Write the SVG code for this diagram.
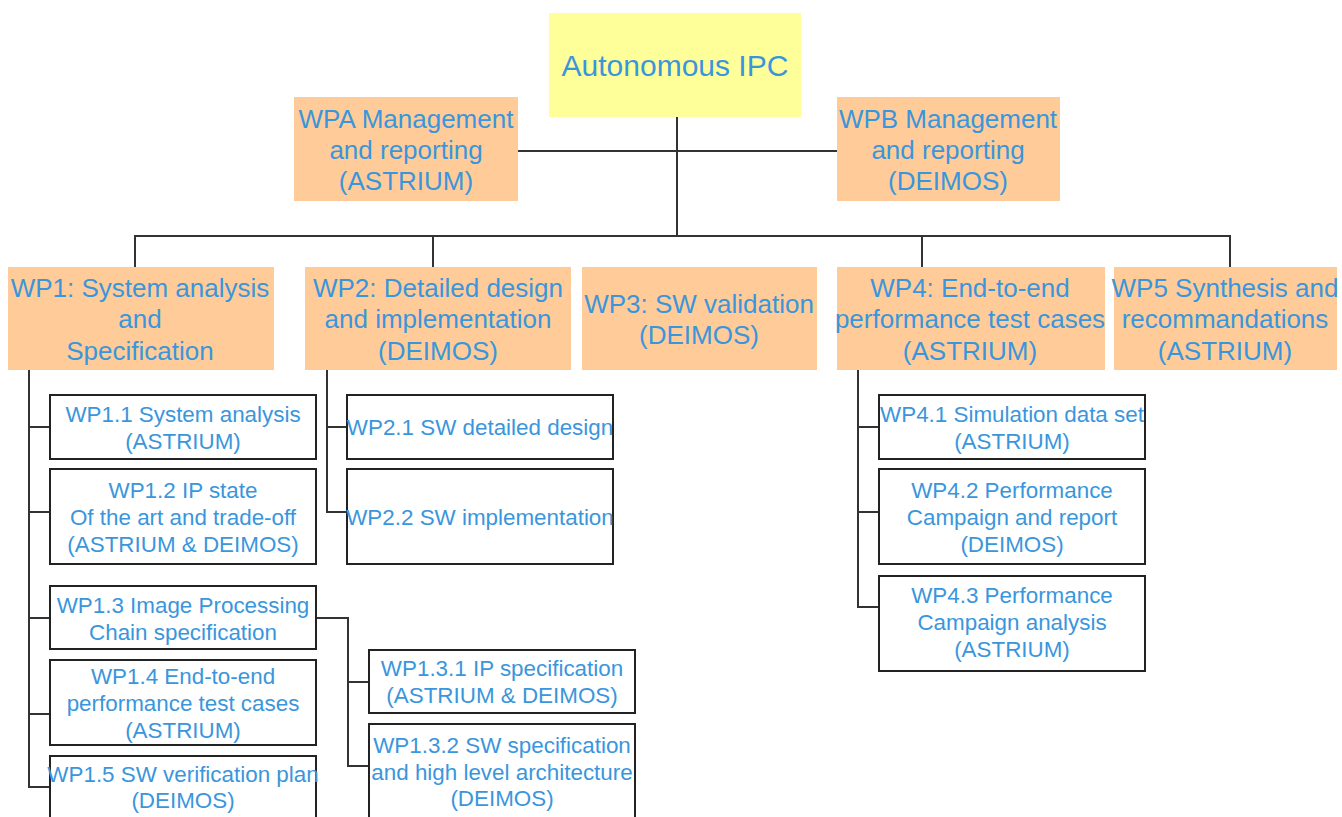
<svg xmlns="http://www.w3.org/2000/svg" width="1342" height="817" viewBox="0 0 1342 817">
<style>
text{font-family:"Liberation Sans",Arial,Helvetica,sans-serif;fill:#3a96dc;text-anchor:middle}
.root{fill:#ffff99}
.top{fill:#ffcc99}
.sub{fill:#ffffff;stroke:#222;stroke-width:2}
.t30{font-size:30px}
.t26{font-size:26px}
.t22{font-size:22.4px}
#connectors path{fill:none;stroke:#333;stroke-width:2}
</style>
<rect width="1342" height="817" fill="#ffffff"/>
<g id="connectors">
<path d="M677 117V236"/>
<path d="M518 151H837"/>
<path d="M135 267V236H1230V267"/>
<path d="M433 236V267"/>
<path d="M922 236V267"/>
<path d="M29 370V787H50"/>
<path d="M29 427H50M29 512H50M29 618H50M29 714H50"/>
<path d="M327 370V512H347M327 427H347"/>
<path d="M316 618H348V766H369M348 682H369"/>
<path d="M858 370V607H879M858 427H879M858 512H879"/>
</g>
<g id="root"><rect class="root" x="549" y="13" width="252" height="104"/><text class="t30" x="675" y="76">Autonomous IPC</text></g>
<g id="wpa"><rect class="top" x="294" y="97" width="224" height="104"/><text class="t26" x="406" y="128">WPA Management</text><text class="t26" x="406" y="159">and reporting</text><text class="t26" x="406" y="190">(ASTRIUM)</text></g>
<g id="wpb"><rect class="top" x="837" y="97" width="223" height="104"/><text class="t26" x="948" y="128">WPB Management</text><text class="t26" x="948" y="159">and reporting</text><text class="t26" x="948" y="190">(DEIMOS)</text></g>
<g id="wp1"><rect class="top" x="8" y="267" width="266" height="103"/><text class="t26" x="140" y="297">WP1: System analysis</text><text class="t26" x="140" y="328">and</text><text class="t26" x="140" y="360">Specification</text></g>
<g id="wp2"><rect class="top" x="305" y="267" width="266" height="103"/><text class="t26" x="438" y="297">WP2: Detailed design</text><text class="t26" x="438" y="328">and implementation</text><text class="t26" x="438" y="360">(DEIMOS)</text></g>
<g id="wp3"><rect class="top" x="582" y="267" width="235" height="103"/><text class="t26" x="699" y="313">WP3: SW validation</text><text class="t26" x="699" y="344">(DEIMOS)</text></g>
<g id="wp4"><rect class="top" x="837" y="267" width="268" height="103"/><text class="t26" x="970" y="297">WP4: End-to-end</text><text class="t26" x="970" y="328">performance test cases</text><text class="t26" x="970" y="360">(ASTRIUM)</text></g>
<g id="wp5"><rect class="top" x="1114" y="267" width="223" height="103"/><text class="t26" x="1225" y="297">WP5 Synthesis and</text><text class="t26" x="1225" y="328">recommandations</text><text class="t26" x="1225" y="360">(ASTRIUM)</text></g>
<g id="wp1-1"><rect class="sub" x="50" y="395" width="266" height="64"/><text class="t22" x="183" y="422">WP1.1 System analysis</text><text class="t22" x="183" y="449">(ASTRIUM)</text></g>
<g id="wp1-2"><rect class="sub" x="50" y="469" width="266" height="95"/><text class="t22" x="183" y="498">WP1.2 IP state</text><text class="t22" x="183" y="525">Of the art and trade-off</text><text class="t22" x="183" y="552">(ASTRIUM &amp; DEIMOS)</text></g>
<g id="wp1-3"><rect class="sub" x="50" y="586" width="266" height="63"/><text class="t22" x="183" y="613">WP1.3 Image Processing</text><text class="t22" x="183" y="640">Chain specification</text></g>
<g id="wp1-4"><rect class="sub" x="50" y="660" width="266" height="85"/><text class="t22" x="183" y="684">WP1.4 End-to-end</text><text class="t22" x="183" y="711">performance test cases</text><text class="t22" x="183" y="738">(ASTRIUM)</text></g>
<g id="wp1-5"><rect class="sub" x="50" y="756" width="266" height="80"/><text class="t22" x="183" y="782">WP1.5 SW verification plan</text><text class="t22" x="183" y="808">(DEIMOS)</text></g>
<g id="wp2-1"><rect class="sub" x="347" y="395" width="266" height="64"/><text class="t22" x="480" y="435">WP2.1 SW detailed design</text></g>
<g id="wp2-2"><rect class="sub" x="347" y="469" width="266" height="95"/><text class="t22" x="480" y="525">WP2.2 SW implementation</text></g>
<g id="wp1-3-1"><rect class="sub" x="369" y="650" width="266" height="63"/><text class="t22" x="502" y="676">WP1.3.1 IP specification</text><text class="t22" x="502" y="703">(ASTRIUM &amp; DEIMOS)</text></g>
<g id="wp1-3-2"><rect class="sub" x="369" y="724" width="266" height="110"/><text class="t22" x="502" y="753">WP1.3.2 SW specification</text><text class="t22" x="502" y="780">and high level architecture</text><text class="t22" x="502" y="806">(DEIMOS)</text></g>
<g id="wp4-1"><rect class="sub" x="879" y="395" width="266" height="64"/><text class="t22" x="1012" y="422">WP4.1 Simulation data set</text><text class="t22" x="1012" y="449">(ASTRIUM)</text></g>
<g id="wp4-2"><rect class="sub" x="879" y="469" width="266" height="95"/><text class="t22" x="1012" y="498">WP4.2 Performance</text><text class="t22" x="1012" y="525">Campaign and report</text><text class="t22" x="1012" y="552">(DEIMOS)</text></g>
<g id="wp4-3"><rect class="sub" x="879" y="576" width="266" height="95"/><text class="t22" x="1012" y="603">WP4.3 Performance</text><text class="t22" x="1012" y="630">Campaign analysis</text><text class="t22" x="1012" y="657">(ASTRIUM)</text></g>
</svg>
